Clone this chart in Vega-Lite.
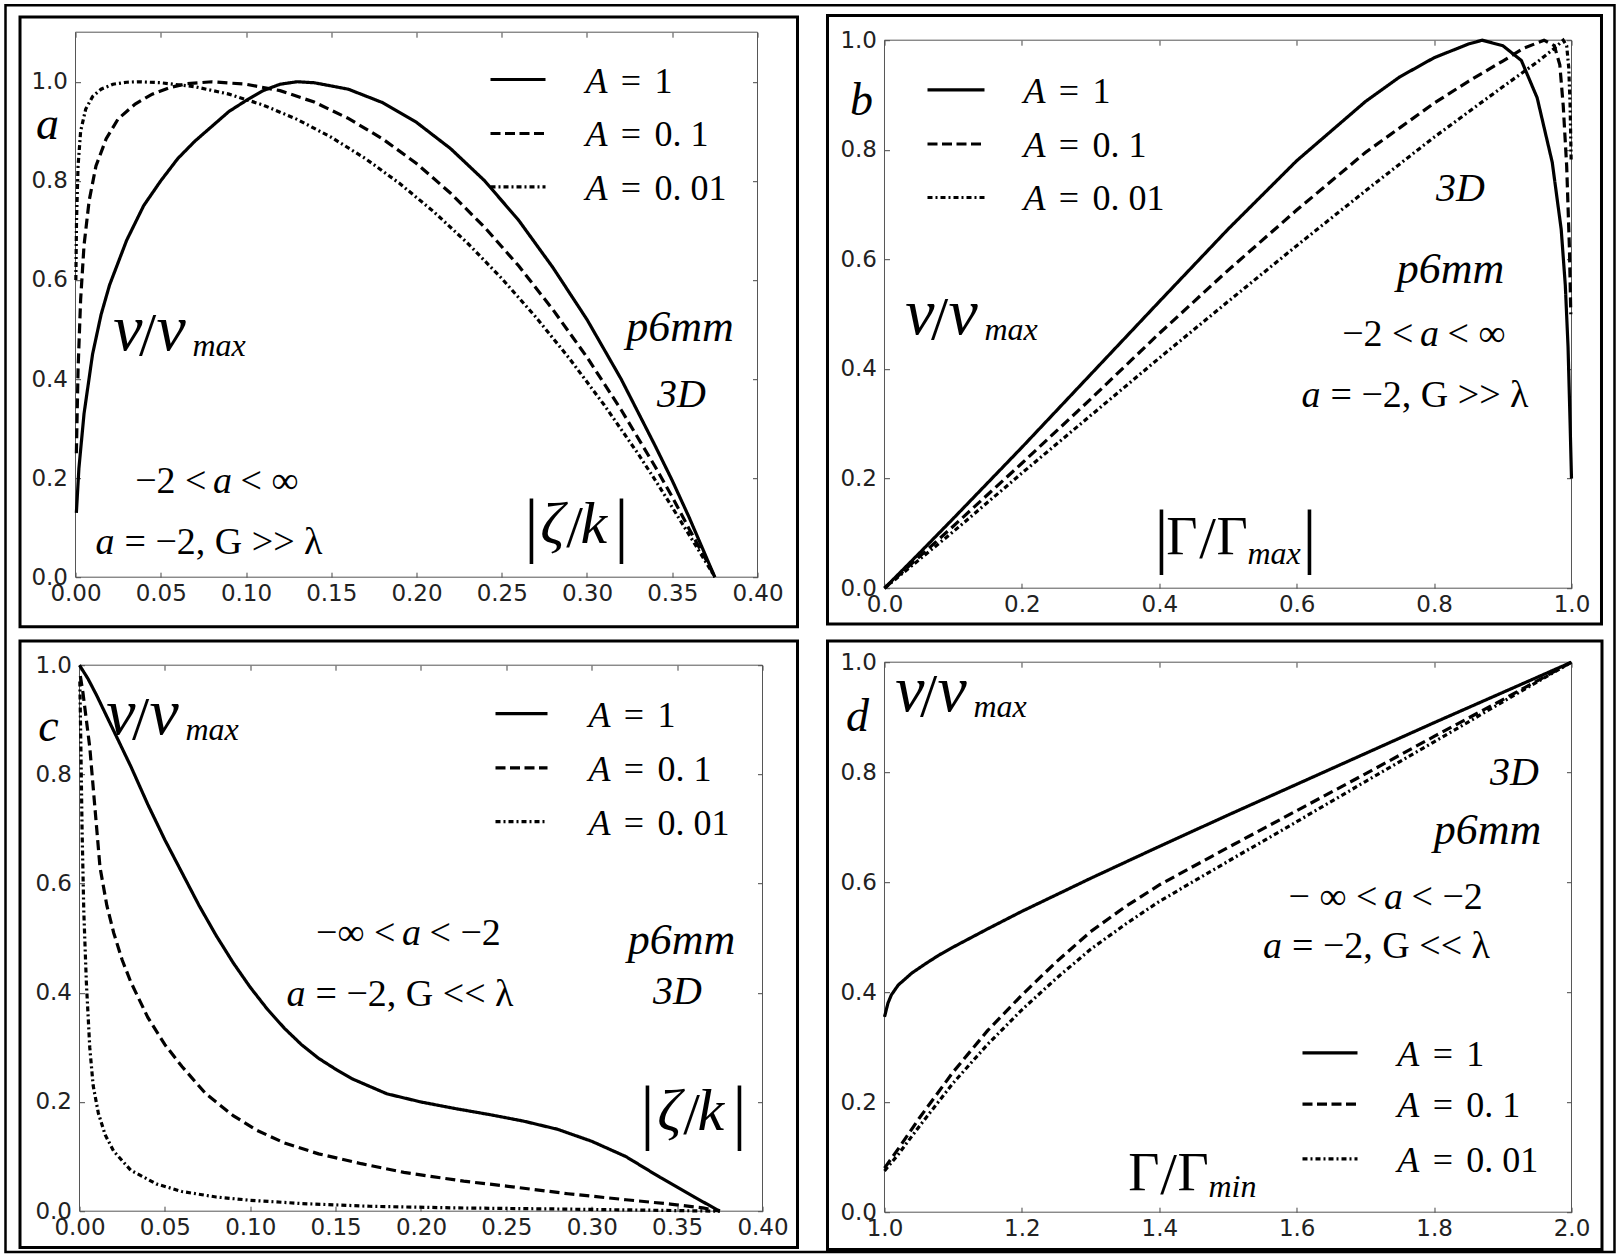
{
  "$schema": "https://vega.github.io/schema/vega-lite/v6.json",
  "padding": {"left": 3.5, "top": 3.2, "right": 0, "bottom": 0},
  "background": "white",
  "columns": 2,
  "spacing": {"row": 74, "column": 122},
  "bounds": "flush",
  "align": "all",
  "datasets": {
    "one": [{}],
    "a": [
      {"A":"1","x":0.0005,"y":0.13},{"A":"1","x":0.002,"y":0.22},{"A":"1","x":0.005,"y":0.33},{"A":"1","x":0.01,"y":0.45},{"A":"1","x":0.015,"y":0.53},{"A":"1","x":0.02,"y":0.59},{"A":"1","x":0.03,"y":0.68},{"A":"1","x":0.04,"y":0.75},{"A":"1","x":0.05,"y":0.8},{"A":"1","x":0.06,"y":0.845},{"A":"1","x":0.07,"y":0.88},{"A":"1","x":0.08,"y":0.91},{"A":"1","x":0.09,"y":0.94},{"A":"1","x":0.1,"y":0.962},{"A":"1","x":0.11,"y":0.982},{"A":"1","x":0.12,"y":0.995},{"A":"1","x":0.13,"y":1.0},{"A":"1","x":0.14,"y":0.998},{"A":"1","x":0.16,"y":0.985},{"A":"1","x":0.18,"y":0.958},{"A":"1","x":0.2,"y":0.918},{"A":"1","x":0.22,"y":0.865},{"A":"1","x":0.24,"y":0.8},{"A":"1","x":0.26,"y":0.72},{"A":"1","x":0.28,"y":0.625},{"A":"1","x":0.3,"y":0.52},{"A":"1","x":0.32,"y":0.4},{"A":"1","x":0.34,"y":0.265},{"A":"1","x":0.35,"y":0.195},{"A":"1","x":0.36,"y":0.12},{"A":"1","x":0.37,"y":0.04},{"A":"1","x":0.375,"y":0},
      {"A":"0.1","x":0.0005,"y":0.25},{"A":"0.1","x":0.0015,"y":0.42},{"A":"0.1","x":0.003,"y":0.56},{"A":"0.1","x":0.005,"y":0.67},{"A":"0.1","x":0.008,"y":0.76},{"A":"0.1","x":0.012,"y":0.83},{"A":"0.1","x":0.018,"y":0.885},{"A":"0.1","x":0.025,"y":0.925},{"A":"0.1","x":0.035,"y":0.955},{"A":"0.1","x":0.045,"y":0.975},{"A":"0.1","x":0.055,"y":0.988},{"A":"0.1","x":0.065,"y":0.996},{"A":"0.1","x":0.08,"y":1.0},{"A":"0.1","x":0.1,"y":0.995},{"A":"0.1","x":0.12,"y":0.982},{"A":"0.1","x":0.14,"y":0.959},{"A":"0.1","x":0.16,"y":0.926},{"A":"0.1","x":0.18,"y":0.885},{"A":"0.1","x":0.2,"y":0.835},{"A":"0.1","x":0.22,"y":0.775},{"A":"0.1","x":0.24,"y":0.706},{"A":"0.1","x":0.26,"y":0.628},{"A":"0.1","x":0.28,"y":0.54},{"A":"0.1","x":0.3,"y":0.444},{"A":"0.1","x":0.32,"y":0.338},{"A":"0.1","x":0.34,"y":0.223},{"A":"0.1","x":0.35,"y":0.162},{"A":"0.1","x":0.36,"y":0.097},{"A":"0.1","x":0.37,"y":0.034},{"A":"0.1","x":0.375,"y":0},
      {"A":"0.01","x":0.0002,"y":0.6},{"A":"0.01","x":0.0006,"y":0.72},{"A":"0.01","x":0.0015,"y":0.83},{"A":"0.01","x":0.003,"y":0.9},{"A":"0.01","x":0.006,"y":0.945},{"A":"0.01","x":0.01,"y":0.97},{"A":"0.01","x":0.015,"y":0.985},{"A":"0.01","x":0.022,"y":0.995},{"A":"0.01","x":0.03,"y":0.999},{"A":"0.01","x":0.037,"y":1.0},{"A":"0.01","x":0.05,"y":0.998},{"A":"0.01","x":0.07,"y":0.99},{"A":"0.01","x":0.09,"y":0.975},{"A":"0.01","x":0.11,"y":0.953},{"A":"0.01","x":0.13,"y":0.924},{"A":"0.01","x":0.15,"y":0.888},{"A":"0.01","x":0.17,"y":0.845},{"A":"0.01","x":0.19,"y":0.795},{"A":"0.01","x":0.21,"y":0.738},{"A":"0.01","x":0.23,"y":0.674},{"A":"0.01","x":0.25,"y":0.603},{"A":"0.01","x":0.27,"y":0.525},{"A":"0.01","x":0.29,"y":0.44},{"A":"0.01","x":0.31,"y":0.348},{"A":"0.01","x":0.33,"y":0.249},{"A":"0.01","x":0.34,"y":0.196},{"A":"0.01","x":0.35,"y":0.141},{"A":"0.01","x":0.36,"y":0.085},{"A":"0.01","x":0.37,"y":0.029},{"A":"0.01","x":0.375,"y":0}
    ],
    "b": [
      {"A":"1","x":0,"y":0},{"A":"1","x":0.05,"y":0.063},{"A":"1","x":0.1,"y":0.127},{"A":"1","x":0.2,"y":0.257},{"A":"1","x":0.3,"y":0.39},{"A":"1","x":0.4,"y":0.523},{"A":"1","x":0.5,"y":0.655},{"A":"1","x":0.6,"y":0.78},{"A":"1","x":0.7,"y":0.888},{"A":"1","x":0.75,"y":0.933},{"A":"1","x":0.8,"y":0.968},{"A":"1","x":0.85,"y":0.993},{"A":"1","x":0.87,"y":1.0},{"A":"1","x":0.9,"y":0.99},{"A":"1","x":0.927,"y":0.963},{"A":"1","x":0.95,"y":0.895},{"A":"1","x":0.972,"y":0.777},{"A":"1","x":0.985,"y":0.655},{"A":"1","x":0.991,"y":0.553},{"A":"1","x":0.995,"y":0.44},{"A":"1","x":0.998,"y":0.3},{"A":"1","x":1.0,"y":0.2},
      {"A":"0.1","x":0,"y":0},{"A":"0.1","x":0.1,"y":0.113},{"A":"0.1","x":0.2,"y":0.228},{"A":"0.1","x":0.3,"y":0.345},{"A":"0.1","x":0.4,"y":0.465},{"A":"0.1","x":0.5,"y":0.58},{"A":"0.1","x":0.6,"y":0.69},{"A":"0.1","x":0.7,"y":0.795},{"A":"0.1","x":0.8,"y":0.885},{"A":"0.1","x":0.85,"y":0.925},{"A":"0.1","x":0.9,"y":0.962},{"A":"0.1","x":0.93,"y":0.985},{"A":"0.1","x":0.96,"y":1.0},{"A":"0.1","x":0.975,"y":0.99},{"A":"0.1","x":0.983,"y":0.955},{"A":"0.1","x":0.988,"y":0.88},{"A":"0.1","x":0.993,"y":0.77},{"A":"0.1","x":0.997,"y":0.62},{"A":"0.1","x":0.999,"y":0.5},
      {"A":"0.01","x":0,"y":0},{"A":"0.01","x":0.1,"y":0.103},{"A":"0.01","x":0.2,"y":0.21},{"A":"0.01","x":0.3,"y":0.315},{"A":"0.01","x":0.4,"y":0.42},{"A":"0.01","x":0.5,"y":0.523},{"A":"0.01","x":0.6,"y":0.625},{"A":"0.01","x":0.7,"y":0.725},{"A":"0.01","x":0.8,"y":0.823},{"A":"0.01","x":0.9,"y":0.915},{"A":"0.01","x":0.95,"y":0.96},{"A":"0.01","x":0.975,"y":0.985},{"A":"0.01","x":0.988,"y":1.0},{"A":"0.01","x":0.993,"y":0.99},{"A":"0.01","x":0.996,"y":0.95},{"A":"0.01","x":0.998,"y":0.88},{"A":"0.01","x":0.9995,"y":0.78}
    ],
    "c": [
      {"A":"1","x":0,"y":1.0},{"A":"1","x":0.005,"y":0.975},{"A":"1","x":0.01,"y":0.945},{"A":"1","x":0.02,"y":0.88},{"A":"1","x":0.03,"y":0.815},{"A":"1","x":0.04,"y":0.745},{"A":"1","x":0.05,"y":0.68},{"A":"1","x":0.06,"y":0.62},{"A":"1","x":0.07,"y":0.56},{"A":"1","x":0.08,"y":0.505},{"A":"1","x":0.09,"y":0.455},{"A":"1","x":0.1,"y":0.41},{"A":"1","x":0.11,"y":0.37},{"A":"1","x":0.12,"y":0.335},{"A":"1","x":0.13,"y":0.305},{"A":"1","x":0.14,"y":0.28},{"A":"1","x":0.15,"y":0.26},{"A":"1","x":0.16,"y":0.242},{"A":"1","x":0.18,"y":0.215},{"A":"1","x":0.2,"y":0.2},{"A":"1","x":0.22,"y":0.188},{"A":"1","x":0.24,"y":0.177},{"A":"1","x":0.26,"y":0.165},{"A":"1","x":0.28,"y":0.15},{"A":"1","x":0.3,"y":0.128},{"A":"1","x":0.32,"y":0.1},{"A":"1","x":0.34,"y":0.062},{"A":"1","x":0.36,"y":0.026},{"A":"1","x":0.375,"y":0},
      {"A":"0.1","x":0.0005,"y":0.98},{"A":"0.1","x":0.002,"y":0.95},{"A":"0.1","x":0.004,"y":0.9},{"A":"0.1","x":0.006,"y":0.85},{"A":"0.1","x":0.009,"y":0.74},{"A":"0.1","x":0.012,"y":0.63},{"A":"0.1","x":0.016,"y":0.56},{"A":"0.1","x":0.02,"y":0.51},{"A":"0.1","x":0.025,"y":0.46},{"A":"0.1","x":0.03,"y":0.42},{"A":"0.1","x":0.04,"y":0.355},{"A":"0.1","x":0.05,"y":0.305},{"A":"0.1","x":0.06,"y":0.265},{"A":"0.1","x":0.074,"y":0.215},{"A":"0.1","x":0.09,"y":0.175},{"A":"0.1","x":0.104,"y":0.148},{"A":"0.1","x":0.12,"y":0.125},{"A":"0.1","x":0.14,"y":0.105},{"A":"0.1","x":0.165,"y":0.087},{"A":"0.1","x":0.19,"y":0.071},{"A":"0.1","x":0.225,"y":0.055},{"A":"0.1","x":0.25,"y":0.046},{"A":"0.1","x":0.286,"y":0.032},{"A":"0.1","x":0.32,"y":0.021},{"A":"0.1","x":0.346,"y":0.013},{"A":"0.1","x":0.365,"y":0.006},{"A":"0.1","x":0.375,"y":0},
      {"A":"0.01","x":0.0002,"y":0.97},{"A":"0.01","x":0.0008,"y":0.85},{"A":"0.01","x":0.0015,"y":0.7},{"A":"0.01","x":0.0025,"y":0.55},{"A":"0.01","x":0.004,"y":0.42},{"A":"0.01","x":0.006,"y":0.3},{"A":"0.01","x":0.008,"y":0.23},{"A":"0.01","x":0.011,"y":0.18},{"A":"0.01","x":0.015,"y":0.14},{"A":"0.01","x":0.02,"y":0.11},{"A":"0.01","x":0.03,"y":0.075},{"A":"0.01","x":0.045,"y":0.05},{"A":"0.01","x":0.06,"y":0.036},{"A":"0.01","x":0.08,"y":0.026},{"A":"0.01","x":0.1,"y":0.02},{"A":"0.01","x":0.13,"y":0.014},{"A":"0.01","x":0.17,"y":0.009},{"A":"0.01","x":0.22,"y":0.006},{"A":"0.01","x":0.28,"y":0.004},{"A":"0.01","x":0.33,"y":0.002},{"A":"0.01","x":0.375,"y":0}
    ],
    "d": [
      {"A":"1","x":1,"y":0.355},{"A":"1","x":1.005,"y":0.38},{"A":"1","x":1.01,"y":0.395},{"A":"1","x":1.02,"y":0.413},{"A":"1","x":1.04,"y":0.435},{"A":"1","x":1.06,"y":0.452},{"A":"1","x":1.08,"y":0.468},{"A":"1","x":1.1,"y":0.482},{"A":"1","x":1.15,"y":0.515},{"A":"1","x":1.2,"y":0.547},{"A":"1","x":1.3,"y":0.607},{"A":"1","x":1.4,"y":0.665},{"A":"1","x":1.5,"y":0.722},{"A":"1","x":1.6,"y":0.778},{"A":"1","x":1.7,"y":0.834},{"A":"1","x":1.8,"y":0.89},{"A":"1","x":1.9,"y":0.945},{"A":"1","x":2,"y":1.0},
      {"A":"0.1","x":1,"y":0.08},{"A":"0.1","x":1.02,"y":0.115},{"A":"0.1","x":1.05,"y":0.17},{"A":"0.1","x":1.1,"y":0.255},{"A":"0.1","x":1.15,"y":0.33},{"A":"0.1","x":1.2,"y":0.395},{"A":"0.1","x":1.25,"y":0.455},{"A":"0.1","x":1.3,"y":0.51},{"A":"0.1","x":1.35,"y":0.555},{"A":"0.1","x":1.4,"y":0.595},{"A":"0.1","x":1.5,"y":0.663},{"A":"0.1","x":1.6,"y":0.73},{"A":"0.1","x":1.7,"y":0.797},{"A":"0.1","x":1.8,"y":0.865},{"A":"0.1","x":1.9,"y":0.932},{"A":"0.1","x":2,"y":1.0},
      {"A":"0.01","x":1,"y":0.075},{"A":"0.01","x":1.02,"y":0.105},{"A":"0.01","x":1.05,"y":0.155},{"A":"0.01","x":1.1,"y":0.235},{"A":"0.01","x":1.15,"y":0.305},{"A":"0.01","x":1.2,"y":0.368},{"A":"0.01","x":1.25,"y":0.425},{"A":"0.01","x":1.3,"y":0.478},{"A":"0.01","x":1.35,"y":0.523},{"A":"0.01","x":1.4,"y":0.565},{"A":"0.01","x":1.5,"y":0.638},{"A":"0.01","x":1.6,"y":0.71},{"A":"0.01","x":1.7,"y":0.783},{"A":"0.01","x":1.8,"y":0.855},{"A":"0.01","x":1.9,"y":0.928},{"A":"0.01","x":2,"y":1.0}
    ]
  },
  "concat": [
    {
      "width": 682, "height": 545,
      "layer": [
        {"data": {"name": "one"}, "mark": {"type": "rect", "fillOpacity": 0, "stroke": "#555", "strokeWidth": 1},
         "encoding": {
           "x": {"datum": 0, "type": "quantitative", "scale": {"domain": [0, 0.4], "nice": false, "zero": false}, "axis": {"orient": "top", "values": [0,0.05,0.1,0.15,0.2,0.25,0.3,0.35,0.4], "labels": false, "title": null}},
           "x2": {"datum": 0.4},
           "y": {"datum": 0, "type": "quantitative", "scale": {"domain": [0, 1.1], "nice": false, "zero": false}, "axis": {"orient": "right", "values": [0,0.2,0.4,0.6,0.8,1], "labels": false, "title": null}},
           "y2": {"datum": 1.1}}},
        {"resolve": {"axis": {"x": "shared", "y": "shared"}},
         "layer": [
          {"data": {"name": "a"}, "mark": {"type": "line", "color": "#000", "strokeWidth": 3.2},
           "encoding": {
             "x": {"field": "x", "type": "quantitative", "scale": {"domain": [0, 0.4], "nice": false, "zero": false}, "axis": {"orient": "bottom", "values": [0,0.05,0.1,0.15,0.2,0.25,0.3,0.35,0.4], "format": ".2f", "title": null}},
             "y": {"field": "y", "type": "quantitative", "scale": {"domain": [0, 1.1], "nice": false, "zero": false}, "axis": {"orient": "left", "values": [0,0.2,0.4,0.6,0.8,1], "format": ".1f", "title": null}},
             "strokeDash": {"field": "A", "type": "nominal", "scale": {"domain": ["1","0.1","0.01"], "range": [[1,0],[10,5],[5,3,2,3]]}, "legend": null}}},
          {"data": {"name": "one"}, "mark": {"type": "rect", "fillOpacity": 0, "stroke": "#000", "strokeWidth": 3}, "encoding": {"x": {"datum": -0.03255}, "x2": {"datum": 0.42346}, "y": {"datum": 1.13069}, "y2": {"datum": -0.10011}}},
          {"data": {"name": "one"}, "mark": {"type": "rect", "fillOpacity": 0, "stroke": "#000", "strokeWidth": 2.5}, "encoding": {"x": {"datum": -0.04106}, "x2": {"datum": 0.90264}, "y": {"datum": 1.1545}, "y2": {"datum": -1.36198}}},
          {"data": {"name": "one"}, "mark": {"type": "rule", "color": "#000", "strokeWidth": 3.2}, "encoding": {"x": {"datum": 0.2434}, "x2": {"datum": 0.27566}, "y": {"datum": 1.00453}}},
          {"data": {"name": "one"}, "mark": {"type": "rule", "color": "#000", "strokeWidth": 3.2, "strokeDash": [10, 4.5]}, "encoding": {"x": {"datum": 0.2434}, "x2": {"datum": 0.27566}, "y": {"datum": 0.89554}}},
          {"data": {"name": "one"}, "mark": {"type": "rule", "color": "#000", "strokeWidth": 3.2, "strokeDash": [5, 3, 2, 3]}, "encoding": {"x": {"datum": 0.2434}, "x2": {"datum": 0.27566}, "y": {"datum": 0.78797}}},
          {"data": {"name": "one"}, "mark": {"type": "text", "style": "it", "fontSize": 36, "align": "left", "baseline": "middle", "dy": 2}, "encoding": {"x": {"datum": 0.29912}, "y": {"datum": 1.00453}, "text": {"value": "A"}}},
          {"data": {"name": "one"}, "mark": {"type": "text", "style": "up", "fontSize": 36, "align": "center", "baseline": "middle", "dx": 45.5, "dy": 2}, "encoding": {"x": {"datum": 0.29912}, "y": {"datum": 1.00453}, "text": {"value": "="}}},
          {"data": {"name": "one"}, "mark": {"type": "text", "style": "up", "fontSize": 36, "align": "left", "baseline": "middle", "dx": 69, "dy": 2}, "encoding": {"x": {"datum": 0.29912}, "y": {"datum": 1.00453}, "text": {"value": "1"}}},
          {"data": {"name": "one"}, "mark": {"type": "text", "style": "it", "fontSize": 36, "align": "left", "baseline": "middle", "dy": 2}, "encoding": {"x": {"datum": 0.29912}, "y": {"datum": 0.89554}, "text": {"value": "A"}}},
          {"data": {"name": "one"}, "mark": {"type": "text", "style": "up", "fontSize": 36, "align": "center", "baseline": "middle", "dx": 45.5, "dy": 2}, "encoding": {"x": {"datum": 0.29912}, "y": {"datum": 0.89554}, "text": {"value": "="}}},
          {"data": {"name": "one"}, "mark": {"type": "text", "style": "up", "fontSize": 36, "align": "left", "baseline": "middle", "dx": 69, "dy": 2}, "encoding": {"x": {"datum": 0.29912}, "y": {"datum": 0.89554}, "text": {"value": "0. 1"}}},
          {"data": {"name": "one"}, "mark": {"type": "text", "style": "it", "fontSize": 36, "align": "left", "baseline": "middle", "dy": 2}, "encoding": {"x": {"datum": 0.29912}, "y": {"datum": 0.78797}, "text": {"value": "A"}}},
          {"data": {"name": "one"}, "mark": {"type": "text", "style": "up", "fontSize": 36, "align": "center", "baseline": "middle", "dx": 45.5, "dy": 2}, "encoding": {"x": {"datum": 0.29912}, "y": {"datum": 0.78797}, "text": {"value": "="}}},
          {"data": {"name": "one"}, "mark": {"type": "text", "style": "up", "fontSize": 36, "align": "left", "baseline": "middle", "dx": 69, "dy": 2}, "encoding": {"x": {"datum": 0.29912}, "y": {"datum": 0.78797}, "text": {"value": "0. 01"}}},
          {"data": {"name": "one"}, "mark": {"type": "text", "style": "it", "fontSize": 46, "align": "center"}, "encoding": {"x": {"datum": -0.01642}, "y": {"datum": 0.88343}, "text": {"value": "a"}}},
          {"data": {"name": "one"}, "mark": {"type": "text", "style": "it", "fontSize": 66, "align": "right", "dx": -5}, "encoding": {"x": {"datum": 0.04223}, "y": {"datum": 0.45757}, "text": {"value": "v"}}},
          {"data": {"name": "one"}, "mark": {"type": "text", "style": "up", "fontSize": 62, "align": "center", "dy": 5}, "encoding": {"x": {"datum": 0.04223}, "y": {"datum": 0.45757}, "text": {"value": "/"}}},
          {"data": {"name": "one"}, "mark": {"type": "text", "style": "it", "fontSize": 66, "align": "left", "dx": 9}, "encoding": {"x": {"datum": 0.04223}, "y": {"datum": 0.45757}, "text": {"value": "v"}}},
          {"data": {"name": "one"}, "mark": {"type": "text", "style": "it", "fontSize": 32, "align": "left", "dx": 45, "dy": 6}, "encoding": {"x": {"datum": 0.04223}, "y": {"datum": 0.45757}, "text": {"value": "max"}}},
          {"data": {"name": "one"}, "mark": {"type": "text", "style": "it", "fontSize": 44, "align": "center"}, "encoding": {"x": {"datum": 0.35455}, "y": {"datum": 0.47573}, "text": {"value": "p6mm"}}},
          {"data": {"name": "one"}, "mark": {"type": "text", "style": "it", "fontSize": 40, "align": "center"}, "encoding": {"x": {"datum": 0.35543}, "y": {"datum": 0.34251}, "text": {"value": "3D"}}},
          {"data": {"name": "one"}, "mark": {"type": "text", "style": "up", "fontSize": 38, "align": "right", "dx": -16}, "encoding": {"x": {"datum": 0.08622}, "y": {"datum": 0.16894}, "text": {"value": "−2 <"}}},
          {"data": {"name": "one"}, "mark": {"type": "text", "style": "it", "fontSize": 38, "align": "center"}, "encoding": {"x": {"datum": 0.08622}, "y": {"datum": 0.16894}, "text": {"value": "a"}}},
          {"data": {"name": "one"}, "mark": {"type": "text", "style": "up", "fontSize": 38, "align": "left", "dx": 18}, "encoding": {"x": {"datum": 0.08622}, "y": {"datum": 0.16894}, "text": {"value": "< ∞"}}},
          {"data": {"name": "one"}, "mark": {"type": "text", "style": "it", "fontSize": 38, "align": "left"}, "encoding": {"x": {"datum": 0.01173}, "y": {"datum": 0.04582}, "text": {"value": "a"}}},
          {"data": {"name": "one"}, "mark": {"type": "text", "style": "up", "fontSize": 38, "align": "left", "dx": 29}, "encoding": {"x": {"datum": 0.01173}, "y": {"datum": 0.04582}, "text": {"value": "= −2, G >> λ"}}},
          {"data": {"name": "one"}, "mark": {"type": "text", "style": "up", "fontSize": 72, "align": "center", "dx": -43, "dy": 6}, "encoding": {"x": {"datum": 0.29267}, "y": {"datum": 0.06953}, "text": {"value": "|"}}},
          {"data": {"name": "one"}, "mark": {"type": "text", "style": "it", "fontSize": 60, "align": "right", "dx": -10}, "encoding": {"x": {"datum": 0.29267}, "y": {"datum": 0.06953}, "text": {"value": "ζ"}}},
          {"data": {"name": "one"}, "mark": {"type": "text", "style": "up", "fontSize": 60, "align": "center", "dy": 4}, "encoding": {"x": {"datum": 0.29267}, "y": {"datum": 0.06953}, "text": {"value": "/"}}},
          {"data": {"name": "one"}, "mark": {"type": "text", "style": "it", "fontSize": 60, "align": "left", "dx": 6}, "encoding": {"x": {"datum": 0.29267}, "y": {"datum": 0.06953}, "text": {"value": "k"}}},
          {"data": {"name": "one"}, "mark": {"type": "text", "style": "up", "fontSize": 72, "align": "center", "dx": 47, "dy": 6}, "encoding": {"x": {"datum": 0.29267}, "y": {"datum": 0.06953}, "text": {"value": "|"}}}
        ]}
      ],
      "resolve": {"axis": {"x": "independent", "y": "independent"}}
    },
    {
      "width": 687, "height": 556,
      "layer": [
        {"data": {"name": "one"}, "mark": {"type": "rect", "fillOpacity": 0, "stroke": "#555", "strokeWidth": 1},
         "encoding": {
           "x": {"datum": 0, "type": "quantitative", "scale": {"domain": [0, 1], "nice": false, "zero": false}, "axis": {"orient": "top", "offset": -8, "values": [0,0.2,0.4,0.6,0.8,1], "labels": false, "title": null}},
           "x2": {"datum": 1},
           "y": {"datum": 0, "type": "quantitative", "scale": {"domain": [0, 1.014599], "nice": false, "zero": false}, "axis": {"orient": "right", "values": [0,0.2,0.4,0.6,0.8,1], "labels": false, "title": null}},
           "y2": {"datum": 1}}},
        {"resolve": {"axis": {"x": "shared", "y": "shared"}},
         "layer": [
          {"data": {"name": "b"}, "mark": {"type": "line", "color": "#000", "strokeWidth": 3.2},
           "encoding": {
             "x": {"field": "x", "type": "quantitative", "scale": {"domain": [0, 1], "nice": false, "zero": false}, "axis": {"orient": "bottom", "values": [0,0.2,0.4,0.6,0.8,1], "format": ".1f", "title": null}},
             "y": {"field": "y", "type": "quantitative", "scale": {"domain": [0, 1.014599], "nice": false, "zero": false}, "axis": {"orient": "left", "values": [0,0.2,0.4,0.6,0.8,1], "format": ".1f", "title": null}},
             "strokeDash": {"field": "A", "type": "nominal", "scale": {"domain": ["1","0.1","0.01"], "range": [[1,0],[10,5],[5,3,2,3]]}, "legend": null}}},
          {"data": {"name": "one"}, "mark": {"type": "rect", "fillOpacity": 0, "stroke": "#000", "strokeWidth": 3}, "encoding": {"x": {"datum": -0.08297}, "x2": {"datum": 1.04367}, "y": {"datum": 1.04507}, "y2": {"datum": -0.06533}}},
          {"data": {"name": "one"}, "mark": {"type": "rule", "color": "#000", "strokeWidth": 3.2}, "encoding": {"x": {"datum": 0.06259}, "x2": {"datum": 0.14556}, "y": {"datum": 0.90949}}},
          {"data": {"name": "one"}, "mark": {"type": "rule", "color": "#000", "strokeWidth": 3.2, "strokeDash": [10, 4.5]}, "encoding": {"x": {"datum": 0.06259}, "x2": {"datum": 0.14556}, "y": {"datum": 0.81058}}},
          {"data": {"name": "one"}, "mark": {"type": "rule", "color": "#000", "strokeWidth": 3.2, "strokeDash": [5, 3, 2, 3]}, "encoding": {"x": {"datum": 0.06259}, "x2": {"datum": 0.14556}, "y": {"datum": 0.71296}}},
          {"data": {"name": "one"}, "mark": {"type": "text", "style": "it", "fontSize": 36, "align": "left", "baseline": "middle", "dy": 2}, "encoding": {"x": {"datum": 0.20233}, "y": {"datum": 0.90949}, "text": {"value": "A"}}},
          {"data": {"name": "one"}, "mark": {"type": "text", "style": "up", "fontSize": 36, "align": "center", "baseline": "middle", "dx": 45.5, "dy": 2}, "encoding": {"x": {"datum": 0.20233}, "y": {"datum": 0.90949}, "text": {"value": "="}}},
          {"data": {"name": "one"}, "mark": {"type": "text", "style": "up", "fontSize": 36, "align": "left", "baseline": "middle", "dx": 69, "dy": 2}, "encoding": {"x": {"datum": 0.20233}, "y": {"datum": 0.90949}, "text": {"value": "1"}}},
          {"data": {"name": "one"}, "mark": {"type": "text", "style": "it", "fontSize": 36, "align": "left", "baseline": "middle", "dy": 2}, "encoding": {"x": {"datum": 0.20233}, "y": {"datum": 0.81058}, "text": {"value": "A"}}},
          {"data": {"name": "one"}, "mark": {"type": "text", "style": "up", "fontSize": 36, "align": "center", "baseline": "middle", "dx": 45.5, "dy": 2}, "encoding": {"x": {"datum": 0.20233}, "y": {"datum": 0.81058}, "text": {"value": "="}}},
          {"data": {"name": "one"}, "mark": {"type": "text", "style": "up", "fontSize": 36, "align": "left", "baseline": "middle", "dx": 69, "dy": 2}, "encoding": {"x": {"datum": 0.20233}, "y": {"datum": 0.81058}, "text": {"value": "0. 1"}}},
          {"data": {"name": "one"}, "mark": {"type": "text", "style": "it", "fontSize": 36, "align": "left", "baseline": "middle", "dy": 2}, "encoding": {"x": {"datum": 0.20233}, "y": {"datum": 0.71296}, "text": {"value": "A"}}},
          {"data": {"name": "one"}, "mark": {"type": "text", "style": "up", "fontSize": 36, "align": "center", "baseline": "middle", "dx": 45.5, "dy": 2}, "encoding": {"x": {"datum": 0.20233}, "y": {"datum": 0.71296}, "text": {"value": "="}}},
          {"data": {"name": "one"}, "mark": {"type": "text", "style": "up", "fontSize": 36, "align": "left", "baseline": "middle", "dx": 69, "dy": 2}, "encoding": {"x": {"datum": 0.20233}, "y": {"datum": 0.71296}, "text": {"value": "0. 01"}}},
          {"data": {"name": "one"}, "mark": {"type": "text", "style": "it", "fontSize": 46, "align": "center"}, "encoding": {"x": {"datum": -0.03348}, "y": {"datum": 0.86259}, "text": {"value": "b"}}},
          {"data": {"name": "one"}, "mark": {"type": "text", "style": "it", "fontSize": 66, "align": "right", "dx": -5}, "encoding": {"x": {"datum": 0.08006}, "y": {"datum": 0.46296}, "text": {"value": "v"}}},
          {"data": {"name": "one"}, "mark": {"type": "text", "style": "up", "fontSize": 62, "align": "center", "dy": 5}, "encoding": {"x": {"datum": 0.08006}, "y": {"datum": 0.46296}, "text": {"value": "/"}}},
          {"data": {"name": "one"}, "mark": {"type": "text", "style": "it", "fontSize": 66, "align": "left", "dx": 9}, "encoding": {"x": {"datum": 0.08006}, "y": {"datum": 0.46296}, "text": {"value": "v"}}},
          {"data": {"name": "one"}, "mark": {"type": "text", "style": "it", "fontSize": 32, "align": "left", "dx": 45, "dy": 6}, "encoding": {"x": {"datum": 0.08006}, "y": {"datum": 0.46296}, "text": {"value": "max"}}},
          {"data": {"name": "one"}, "mark": {"type": "text", "style": "it", "fontSize": 40, "align": "center"}, "encoding": {"x": {"datum": 0.83843}, "y": {"datum": 0.70566}, "text": {"value": "3D"}}},
          {"data": {"name": "one"}, "mark": {"type": "text", "style": "it", "fontSize": 44, "align": "center"}, "encoding": {"x": {"datum": 0.82387}, "y": {"datum": 0.55602}, "text": {"value": "p6mm"}}},
          {"data": {"name": "one"}, "mark": {"type": "text", "style": "up", "fontSize": 38, "align": "right", "dx": -16}, "encoding": {"x": {"datum": 0.7933}, "y": {"datum": 0.44106}, "text": {"value": "−2 <"}}},
          {"data": {"name": "one"}, "mark": {"type": "text", "style": "it", "fontSize": 38, "align": "center"}, "encoding": {"x": {"datum": 0.7933}, "y": {"datum": 0.44106}, "text": {"value": "a"}}},
          {"data": {"name": "one"}, "mark": {"type": "text", "style": "up", "fontSize": 38, "align": "left", "dx": 18}, "encoding": {"x": {"datum": 0.7933}, "y": {"datum": 0.44106}, "text": {"value": "< ∞"}}},
          {"data": {"name": "one"}, "mark": {"type": "text", "style": "it", "fontSize": 38, "align": "left"}, "encoding": {"x": {"datum": 0.60699}, "y": {"datum": 0.32974}, "text": {"value": "a"}}},
          {"data": {"name": "one"}, "mark": {"type": "text", "style": "up", "fontSize": 38, "align": "left", "dx": 29}, "encoding": {"x": {"datum": 0.60699}, "y": {"datum": 0.32974}, "text": {"value": "= −2, G >> λ"}}},
          {"data": {"name": "one"}, "mark": {"type": "text", "style": "up", "fontSize": 72, "align": "center", "dx": -46, "dy": 6}, "encoding": {"x": {"datum": 0.47016}, "y": {"datum": 0.0615}, "text": {"value": "|"}}},
          {"data": {"name": "one"}, "mark": {"type": "text", "style": "up", "fontSize": 54, "align": "right", "dx": -10}, "encoding": {"x": {"datum": 0.47016}, "y": {"datum": 0.0615}, "text": {"value": "Γ"}}},
          {"data": {"name": "one"}, "mark": {"type": "text", "style": "up", "fontSize": 60, "align": "center", "dy": 4}, "encoding": {"x": {"datum": 0.47016}, "y": {"datum": 0.0615}, "text": {"value": "/"}}},
          {"data": {"name": "one"}, "mark": {"type": "text", "style": "up", "fontSize": 54, "align": "left", "dx": 9}, "encoding": {"x": {"datum": 0.47016}, "y": {"datum": 0.0615}, "text": {"value": "Γ"}}},
          {"data": {"name": "one"}, "mark": {"type": "text", "style": "it", "fontSize": 32, "align": "left", "dx": 40, "dy": 10}, "encoding": {"x": {"datum": 0.47016}, "y": {"datum": 0.0615}, "text": {"value": "max"}}},
          {"data": {"name": "one"}, "mark": {"type": "text", "style": "up", "fontSize": 72, "align": "center", "dx": 102, "dy": 6}, "encoding": {"x": {"datum": 0.47016}, "y": {"datum": 0.0615}, "text": {"value": "|"}}}
        ]}
      ],
      "resolve": {"axis": {"x": "independent", "y": "independent"}}
    },
    {
      "width": 687, "height": 549,
      "layer": [
        {"data": {"name": "one"}, "mark": {"type": "rect", "fillOpacity": 0, "stroke": "#555", "strokeWidth": 1},
         "encoding": {
           "x": {"datum": 0, "type": "quantitative", "scale": {"domain": [-0.0023426, 0.4], "nice": false, "zero": false}, "axis": {"orient": "top", "offset": -3, "values": [0,0.05,0.1,0.15,0.2,0.25,0.3,0.35,0.4], "labels": false, "title": null}},
           "x2": {"datum": 0.4},
           "y": {"datum": 0, "type": "quantitative", "scale": {"domain": [0, 1.005495], "nice": false, "zero": false}, "axis": {"orient": "right", "values": [0,0.2,0.4,0.6,0.8,1], "labels": false, "title": null}},
           "y2": {"datum": 1}}},
        {"resolve": {"axis": {"x": "shared", "y": "shared"}},
         "layer": [
          {"data": {"name": "c"}, "mark": {"type": "line", "color": "#000", "strokeWidth": 3.2},
           "encoding": {
             "x": {"field": "x", "type": "quantitative", "scale": {"domain": [-0.0023426, 0.4], "nice": false, "zero": false}, "axis": {"orient": "bottom", "values": [0,0.05,0.1,0.15,0.2,0.25,0.3,0.35,0.4], "format": ".2f", "title": null}},
             "y": {"field": "y", "type": "quantitative", "scale": {"domain": [0, 1.005495], "nice": false, "zero": false}, "axis": {"orient": "left", "offset": -4, "values": [0,0.2,0.4,0.6,0.8,1], "format": ".1f", "title": null}},
             "strokeDash": {"field": "A", "type": "nominal", "scale": {"domain": ["1","0.1","0.01"], "range": [[1,0],[10,5],[5,3,2,3]]}, "legend": null}}},
          {"data": {"name": "one"}, "mark": {"type": "rect", "fillOpacity": 0, "stroke": "#000", "strokeWidth": 3}, "encoding": {"x": {"datum": -0.03485}, "x2": {"datum": 0.4205}, "y": {"datum": 1.04432}, "y2": {"datum": -0.06648}}},
          {"data": {"name": "one"}, "mark": {"type": "rule", "color": "#000", "strokeWidth": 3.2}, "encoding": {"x": {"datum": 0.24363}, "x2": {"datum": 0.27409}, "y": {"datum": 0.91136}}},
          {"data": {"name": "one"}, "mark": {"type": "rule", "color": "#000", "strokeWidth": 3.2, "strokeDash": [10, 4.5]}, "encoding": {"x": {"datum": 0.24363}, "x2": {"datum": 0.27409}, "y": {"datum": 0.81209}}},
          {"data": {"name": "one"}, "mark": {"type": "rule", "color": "#000", "strokeWidth": 3.2, "strokeDash": [5, 3, 2, 3]}, "encoding": {"x": {"datum": 0.24363}, "x2": {"datum": 0.27409}, "y": {"datum": 0.71337}}},
          {"data": {"name": "one"}, "mark": {"type": "text", "style": "it", "fontSize": 36, "align": "left", "baseline": "middle", "dy": 2}, "encoding": {"x": {"datum": 0.2981}, "y": {"datum": 0.91136}, "text": {"value": "A"}}},
          {"data": {"name": "one"}, "mark": {"type": "text", "style": "up", "fontSize": 36, "align": "center", "baseline": "middle", "dx": 45.5, "dy": 2}, "encoding": {"x": {"datum": 0.2981}, "y": {"datum": 0.91136}, "text": {"value": "="}}},
          {"data": {"name": "one"}, "mark": {"type": "text", "style": "up", "fontSize": 36, "align": "left", "baseline": "middle", "dx": 69, "dy": 2}, "encoding": {"x": {"datum": 0.2981}, "y": {"datum": 0.91136}, "text": {"value": "1"}}},
          {"data": {"name": "one"}, "mark": {"type": "text", "style": "it", "fontSize": 36, "align": "left", "baseline": "middle", "dy": 2}, "encoding": {"x": {"datum": 0.2981}, "y": {"datum": 0.81209}, "text": {"value": "A"}}},
          {"data": {"name": "one"}, "mark": {"type": "text", "style": "up", "fontSize": 36, "align": "center", "baseline": "middle", "dx": 45.5, "dy": 2}, "encoding": {"x": {"datum": 0.2981}, "y": {"datum": 0.81209}, "text": {"value": "="}}},
          {"data": {"name": "one"}, "mark": {"type": "text", "style": "up", "fontSize": 36, "align": "left", "baseline": "middle", "dx": 69, "dy": 2}, "encoding": {"x": {"datum": 0.2981}, "y": {"datum": 0.81209}, "text": {"value": "0. 1"}}},
          {"data": {"name": "one"}, "mark": {"type": "text", "style": "it", "fontSize": 36, "align": "left", "baseline": "middle", "dy": 2}, "encoding": {"x": {"datum": 0.2981}, "y": {"datum": 0.71337}, "text": {"value": "A"}}},
          {"data": {"name": "one"}, "mark": {"type": "text", "style": "up", "fontSize": 36, "align": "center", "baseline": "middle", "dx": 45.5, "dy": 2}, "encoding": {"x": {"datum": 0.2981}, "y": {"datum": 0.71337}, "text": {"value": "="}}},
          {"data": {"name": "one"}, "mark": {"type": "text", "style": "up", "fontSize": 36, "align": "left", "baseline": "middle", "dx": 69, "dy": 2}, "encoding": {"x": {"datum": 0.2981}, "y": {"datum": 0.71337}, "text": {"value": "0. 01"}}},
          {"data": {"name": "one"}, "mark": {"type": "text", "style": "it", "fontSize": 46, "align": "center"}, "encoding": {"x": {"datum": -0.01816}, "y": {"datum": 0.86026}, "text": {"value": "c"}}},
          {"data": {"name": "one"}, "mark": {"type": "text", "style": "it", "fontSize": 66, "align": "right", "dx": -5}, "encoding": {"x": {"datum": 0.03572}, "y": {"datum": 0.87308}, "text": {"value": "v"}}},
          {"data": {"name": "one"}, "mark": {"type": "text", "style": "up", "fontSize": 62, "align": "center", "dy": 5}, "encoding": {"x": {"datum": 0.03572}, "y": {"datum": 0.87308}, "text": {"value": "/"}}},
          {"data": {"name": "one"}, "mark": {"type": "text", "style": "it", "fontSize": 66, "align": "left", "dx": 9}, "encoding": {"x": {"datum": 0.03572}, "y": {"datum": 0.87308}, "text": {"value": "v"}}},
          {"data": {"name": "one"}, "mark": {"type": "text", "style": "it", "fontSize": 32, "align": "left", "dx": 45, "dy": 6}, "encoding": {"x": {"datum": 0.03572}, "y": {"datum": 0.87308}, "text": {"value": "max"}}},
          {"data": {"name": "one"}, "mark": {"type": "text", "style": "up", "fontSize": 38, "align": "right", "dx": -16}, "encoding": {"x": {"datum": 0.19444}, "y": {"datum": 0.48663}, "text": {"value": "−∞ <"}}},
          {"data": {"name": "one"}, "mark": {"type": "text", "style": "it", "fontSize": 38, "align": "center"}, "encoding": {"x": {"datum": 0.19444}, "y": {"datum": 0.48663}, "text": {"value": "a"}}},
          {"data": {"name": "one"}, "mark": {"type": "text", "style": "up", "fontSize": 38, "align": "left", "dx": 18}, "encoding": {"x": {"datum": 0.19444}, "y": {"datum": 0.48663}, "text": {"value": "< −2"}}},
          {"data": {"name": "one"}, "mark": {"type": "text", "style": "it", "fontSize": 38, "align": "left"}, "encoding": {"x": {"datum": 0.12123}, "y": {"datum": 0.37582}, "text": {"value": "a"}}},
          {"data": {"name": "one"}, "mark": {"type": "text", "style": "up", "fontSize": 38, "align": "left", "dx": 29}, "encoding": {"x": {"datum": 0.12123}, "y": {"datum": 0.37582}, "text": {"value": "= −2, G << λ"}}},
          {"data": {"name": "one"}, "mark": {"type": "text", "style": "it", "fontSize": 44, "align": "center"}, "encoding": {"x": {"datum": 0.35256}, "y": {"datum": 0.47015}, "text": {"value": "p6mm"}}},
          {"data": {"name": "one"}, "mark": {"type": "text", "style": "it", "fontSize": 40, "align": "center"}, "encoding": {"x": {"datum": 0.35022}, "y": {"datum": 0.37949}, "text": {"value": "3D"}}},
          {"data": {"name": "one"}, "mark": {"type": "text", "style": "up", "fontSize": 72, "align": "center", "dx": -44, "dy": 6}, "encoding": {"x": {"datum": 0.35842}, "y": {"datum": 0.1478}, "text": {"value": "|"}}},
          {"data": {"name": "one"}, "mark": {"type": "text", "style": "it", "fontSize": 60, "align": "right", "dx": -10}, "encoding": {"x": {"datum": 0.35842}, "y": {"datum": 0.1478}, "text": {"value": "ζ"}}},
          {"data": {"name": "one"}, "mark": {"type": "text", "style": "up", "fontSize": 60, "align": "center", "dy": 4}, "encoding": {"x": {"datum": 0.35842}, "y": {"datum": 0.1478}, "text": {"value": "/"}}},
          {"data": {"name": "one"}, "mark": {"type": "text", "style": "it", "fontSize": 60, "align": "left", "dx": 6}, "encoding": {"x": {"datum": 0.35842}, "y": {"datum": 0.1478}, "text": {"value": "k"}}},
          {"data": {"name": "one"}, "mark": {"type": "text", "style": "up", "fontSize": 72, "align": "center", "dx": 48, "dy": 6}, "encoding": {"x": {"datum": 0.35842}, "y": {"datum": 0.1478}, "text": {"value": "|"}}}
        ]}
      ],
      "resolve": {"axis": {"x": "independent", "y": "independent"}}
    },
    {
      "width": 687, "height": 550,
      "layer": [
        {"data": {"name": "one"}, "mark": {"type": "rect", "fillOpacity": 0, "stroke": "#555", "strokeWidth": 1},
         "encoding": {
           "x": {"datum": 1, "type": "quantitative", "scale": {"domain": [1, 2], "nice": false, "zero": false}, "axis": {"orient": "top", "values": [1,1.2,1.4,1.6,1.8,2], "labels": false, "title": null}},
           "x2": {"datum": 2},
           "y": {"datum": 0, "type": "quantitative", "scale": {"domain": [0, 1], "nice": false, "zero": false}, "axis": {"orient": "right", "values": [0,0.2,0.4,0.6,0.8,1], "labels": false, "title": null}},
           "y2": {"datum": 1}}},
        {"resolve": {"axis": {"x": "shared", "y": "shared"}},
         "layer": [
          {"data": {"name": "d"}, "mark": {"type": "line", "color": "#000", "strokeWidth": 3.2},
           "encoding": {
             "x": {"field": "x", "type": "quantitative", "scale": {"domain": [1, 2], "nice": false, "zero": false}, "axis": {"orient": "bottom", "values": [1,1.2,1.4,1.6,1.8,2], "format": ".1f", "title": null}},
             "y": {"field": "y", "type": "quantitative", "scale": {"domain": [0, 1], "nice": false, "zero": false}, "axis": {"orient": "left", "values": [0,0.2,0.4,0.6,0.8,1], "format": ".1f", "title": null}},
             "strokeDash": {"field": "A", "type": "nominal", "scale": {"domain": ["1","0.1","0.01"], "range": [[1,0],[10,5],[5,3,2,3]]}, "legend": null}}},
          {"data": {"name": "one"}, "mark": {"type": "rect", "fillOpacity": 0, "stroke": "#000", "strokeWidth": 3}, "encoding": {"x": {"datum": 0.91703}, "x2": {"datum": 2.0444}, "y": {"datum": 1.03855}, "y2": {"datum": -0.06782}}},
          {"data": {"name": "one"}, "mark": {"type": "rule", "color": "#000", "strokeWidth": 3.2}, "encoding": {"x": {"datum": 1.60844}, "x2": {"datum": 1.6885}, "y": {"datum": 0.28982}}},
          {"data": {"name": "one"}, "mark": {"type": "rule", "color": "#000", "strokeWidth": 3.2, "strokeDash": [10, 4.5]}, "encoding": {"x": {"datum": 1.60844}, "x2": {"datum": 1.6885}, "y": {"datum": 0.19655}}},
          {"data": {"name": "one"}, "mark": {"type": "rule", "color": "#000", "strokeWidth": 3.2, "strokeDash": [5, 3, 2, 3]}, "encoding": {"x": {"datum": 1.60844}, "x2": {"datum": 1.6885}, "y": {"datum": 0.09691}}},
          {"data": {"name": "one"}, "mark": {"type": "text", "style": "it", "fontSize": 36, "align": "left", "baseline": "middle", "dy": 2}, "encoding": {"x": {"datum": 1.74643}, "y": {"datum": 0.28982}, "text": {"value": "A"}}},
          {"data": {"name": "one"}, "mark": {"type": "text", "style": "up", "fontSize": 36, "align": "center", "baseline": "middle", "dx": 45.5, "dy": 2}, "encoding": {"x": {"datum": 1.74643}, "y": {"datum": 0.28982}, "text": {"value": "="}}},
          {"data": {"name": "one"}, "mark": {"type": "text", "style": "up", "fontSize": 36, "align": "left", "baseline": "middle", "dx": 69, "dy": 2}, "encoding": {"x": {"datum": 1.74643}, "y": {"datum": 0.28982}, "text": {"value": "1"}}},
          {"data": {"name": "one"}, "mark": {"type": "text", "style": "it", "fontSize": 36, "align": "left", "baseline": "middle", "dy": 2}, "encoding": {"x": {"datum": 1.74643}, "y": {"datum": 0.19655}, "text": {"value": "A"}}},
          {"data": {"name": "one"}, "mark": {"type": "text", "style": "up", "fontSize": 36, "align": "center", "baseline": "middle", "dx": 45.5, "dy": 2}, "encoding": {"x": {"datum": 1.74643}, "y": {"datum": 0.19655}, "text": {"value": "="}}},
          {"data": {"name": "one"}, "mark": {"type": "text", "style": "up", "fontSize": 36, "align": "left", "baseline": "middle", "dx": 69, "dy": 2}, "encoding": {"x": {"datum": 1.74643}, "y": {"datum": 0.19655}, "text": {"value": "0. 1"}}},
          {"data": {"name": "one"}, "mark": {"type": "text", "style": "it", "fontSize": 36, "align": "left", "baseline": "middle", "dy": 2}, "encoding": {"x": {"datum": 1.74643}, "y": {"datum": 0.09691}, "text": {"value": "A"}}},
          {"data": {"name": "one"}, "mark": {"type": "text", "style": "up", "fontSize": 36, "align": "center", "baseline": "middle", "dx": 45.5, "dy": 2}, "encoding": {"x": {"datum": 1.74643}, "y": {"datum": 0.09691}, "text": {"value": "="}}},
          {"data": {"name": "one"}, "mark": {"type": "text", "style": "up", "fontSize": 36, "align": "left", "baseline": "middle", "dx": 69, "dy": 2}, "encoding": {"x": {"datum": 1.74643}, "y": {"datum": 0.09691}, "text": {"value": "0. 01"}}},
          {"data": {"name": "one"}, "mark": {"type": "text", "style": "it", "fontSize": 46, "align": "center", "dx": -3}, "encoding": {"x": {"datum": 0.96507}, "y": {"datum": 0.874}, "text": {"value": "d"}}},
          {"data": {"name": "one"}, "mark": {"type": "text", "style": "it", "fontSize": 66, "align": "right", "dx": -4}, "encoding": {"x": {"datum": 1.06405}, "y": {"datum": 0.91036}, "text": {"value": "v"}}},
          {"data": {"name": "one"}, "mark": {"type": "text", "style": "up", "fontSize": 62, "align": "center", "dy": 5}, "encoding": {"x": {"datum": 1.06405}, "y": {"datum": 0.91036}, "text": {"value": "/"}}},
          {"data": {"name": "one"}, "mark": {"type": "text", "style": "it", "fontSize": 66, "align": "left", "dx": 9}, "encoding": {"x": {"datum": 1.06405}, "y": {"datum": 0.91036}, "text": {"value": "v"}}},
          {"data": {"name": "one"}, "mark": {"type": "text", "style": "it", "fontSize": 32, "align": "left", "dx": 45, "dy": 6}, "encoding": {"x": {"datum": 1.06405}, "y": {"datum": 0.91036}, "text": {"value": "max"}}},
          {"data": {"name": "one"}, "mark": {"type": "text", "style": "it", "fontSize": 40, "align": "center"}, "encoding": {"x": {"datum": 1.91703}, "y": {"datum": 0.77582}, "text": {"value": "3D"}}},
          {"data": {"name": "one"}, "mark": {"type": "text", "style": "it", "fontSize": 44, "align": "center"}, "encoding": {"x": {"datum": 1.87773}, "y": {"datum": 0.66855}, "text": {"value": "p6mm"}}},
          {"data": {"name": "one"}, "mark": {"type": "text", "style": "up", "fontSize": 38, "align": "right", "dx": -16}, "encoding": {"x": {"datum": 1.7409}, "y": {"datum": 0.55036}, "text": {"value": "− ∞ <"}}},
          {"data": {"name": "one"}, "mark": {"type": "text", "style": "it", "fontSize": 38, "align": "center"}, "encoding": {"x": {"datum": 1.7409}, "y": {"datum": 0.55036}, "text": {"value": "a"}}},
          {"data": {"name": "one"}, "mark": {"type": "text", "style": "up", "fontSize": 38, "align": "left", "dx": 18}, "encoding": {"x": {"datum": 1.7409}, "y": {"datum": 0.55036}, "text": {"value": "< −2"}}},
          {"data": {"name": "one"}, "mark": {"type": "text", "style": "it", "fontSize": 38, "align": "left"}, "encoding": {"x": {"datum": 1.55095}, "y": {"datum": 0.46218}, "text": {"value": "a"}}},
          {"data": {"name": "one"}, "mark": {"type": "text", "style": "up", "fontSize": 38, "align": "left", "dx": 29}, "encoding": {"x": {"datum": 1.55095}, "y": {"datum": 0.46218}, "text": {"value": "= −2, G << λ"}}},
          {"data": {"name": "one"}, "mark": {"type": "text", "style": "up", "fontSize": 54, "align": "right", "dx": -9}, "encoding": {"x": {"datum": 1.41339}, "y": {"datum": 0.03945}, "text": {"value": "Γ"}}},
          {"data": {"name": "one"}, "mark": {"type": "text", "style": "up", "fontSize": 60, "align": "center", "dy": 4}, "encoding": {"x": {"datum": 1.41339}, "y": {"datum": 0.03945}, "text": {"value": "/"}}},
          {"data": {"name": "one"}, "mark": {"type": "text", "style": "up", "fontSize": 54, "align": "left", "dx": 9}, "encoding": {"x": {"datum": 1.41339}, "y": {"datum": 0.03945}, "text": {"value": "Γ"}}},
          {"data": {"name": "one"}, "mark": {"type": "text", "style": "it", "fontSize": 32, "align": "left", "dx": 40, "dy": 7}, "encoding": {"x": {"datum": 1.41339}, "y": {"datum": 0.03945}, "text": {"value": "min"}}}
        ]}
      ],
      "resolve": {"axis": {"x": "independent", "y": "independent"}}
    }
  ],
  "config": {
    "view": {"stroke": null},
    "axis": {"labelFont": "DejaVu Sans", "labelFontSize": 23, "labelColor": "#222", "tickColor": "#444", "tickWidth": 1, "tickSize": -5, "domain": false, "grid": false, "labelFlush": false, "labelOverlap": false},
    "axisX": {"labelPadding": 10.5},
    "axisY": {"labelPadding": 13},
    "text": {"font": "Liberation Serif", "baseline": "alphabetic", "color": "#000"},
    "style": {"it": {"fontStyle": "italic"}, "up": {"fontStyle": "normal"}}
  }
}
